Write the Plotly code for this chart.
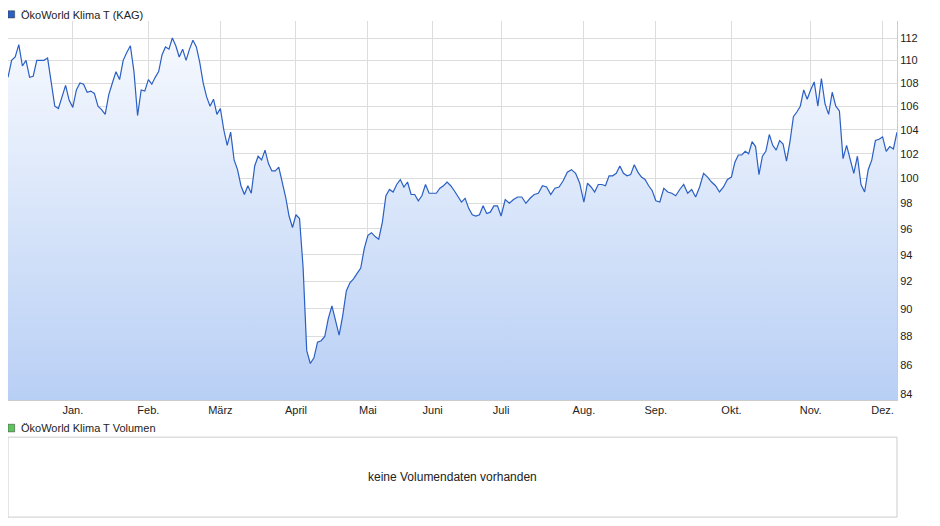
import numpy as np
import plotly.graph_objects as go

# closing prices per month, Dec 2019 .. Dec 2020
dec19 = [108.5, 110, 110.3, 111.4, 109.5, 110, 108.5, 108.6, 110, 110, 110, 110.2, 108, 106, 105.8, 106.8, 107.8, 106.5]
jan = [105.9, 107.4, 108, 107.9, 107.2, 107.3, 107.1, 106, 105.7, 105.3, 107, 108, 109, 108.3, 110, 110.7, 111.3, 109, 105.2, 107.4, 107.3]
feb = [108.3, 107.9, 108.5, 109, 110.5, 111.2, 111, 112, 111.3, 110.3, 111, 110, 111, 111.8, 111.2, 109.8, 108, 106.8, 106, 106.6, 105.3]
mar = [105.8, 104, 102.7, 103.8, 101.5, 100.7, 99.4, 98.7, 99.4, 98.8, 101, 101.8, 101.5, 102.3, 101.2, 100.6, 100.6, 100.9, 99.8, 98.5, 97, 96.1]
apr = [97.1, 96.8, 93, 87, 86.1, 86.5, 87.6, 87.7, 88, 89.3, 90.2, 89.2, 88.1, 89.5, 91.3, 91.9, 92.2, 92.6, 93, 94.5]
may = [95.5, 95.7, 95.4, 95.2, 96.5, 98.6, 99.1, 98.9, 99.5, 99.9, 99.3, 99.7, 98.7, 98.7, 98.2, 98.6, 99.5, 98.8]
jun = [98.8, 98.8, 99.2, 99.4, 99.7, 99.4, 99, 98.6, 98.1, 98.4, 97.6, 97.1, 97.0, 97.1, 97.8, 97.2, 97.3, 97.8, 97.8]
jul = [97.0, 98.3, 98.0, 98.3, 98.5, 98.5, 98.0, 98.4, 98.7, 98.8, 99.4, 99.3, 98.7, 99.2, 99.3, 99.8, 100.5, 100.7, 100.4, 99.6]
aug = [98.1, 99.6, 99.3, 98.9, 99.5, 99.5, 99.4, 100.2, 100.2, 100.4, 101, 100.4, 100.2, 100.3, 101.1, 100.5, 100.1, 99.9, 99.4, 99]
sep = [98.2, 98.1, 99.2, 98.9, 98.8, 98.6, 99.1, 99.5, 98.8, 99.1, 98.5, 99.3, 100.4, 100.1, 99.7, 99.4, 98.9, 99.3, 99.9]
okt = [100.1, 101.3, 101.9, 101.9, 102.2, 102, 103, 102.6, 100.3, 101.8, 102.2, 103.6, 102.7, 102.3, 103.1, 102.8, 101.4, 103, 105.1, 105.5, 106, 107.4, 106.6]
nov = [107.4, 108.1, 106, 108.4, 106.2, 105.3, 107.2, 106, 105.6, 101.6, 102.7, 101.5, 100.4, 101.8, 99.5, 98.9, 100.7, 101.5, 103.1, 103.2]
dec20 = [103.4, 102.2, 102.6, 102.4, 103.8]

months = [dec19, jan, feb, mar, apr, may, jun, jul, aug, sep, okt, nov, dec20]
trading_days = [18, 21, 20, 21, 20, 18, 19, 23, 20, 21, 22, 20, 4]
month_labels = ["Jan.", "Feb.", "März", "April", "Mai", "Juni", "Juli", "Aug.", "Sep.", "Okt.", "Nov.", "Dez."]
y_ticks = [84, 86, 88, 90, 92, 94, 96, 98, 100, 102, 104, 106, 108, 110, 112]

x, y = [], []
starts = np.concatenate([[0], np.cumsum(trading_days)])
for i, vals in enumerate(months):
    n = len(vals)
    step = trading_days[i] / (n - 1 if i == len(months) - 1 else n)
    x += [starts[i] + j * step for j in range(n)]
    y += vals
x_end = x[-1]

fig = go.Figure()
fig.add_trace(go.Scatter(x=[0, x_end], y=[83.5, 83.5], mode="lines",
                         line=dict(width=0), hoverinfo="skip", showlegend=False))
fig.add_trace(go.Scatter(
    x=x, y=y, mode="lines", line=dict(color="#2a5fc4", width=1.2),
    fill="tonexty",
    fillgradient=dict(type="vertical", colorscale=[[0, "#b8cff5"], [1, "#f6f9fe"]]),
    showlegend=False,
))

# page body adds an 8px offset, so the figure is a bit smaller than the window
fig.update_layout(
    width=932, height=518,
    margin=dict(l=0, r=43, t=13, b=126),
    paper_bgcolor="white", plot_bgcolor="white",
    font=dict(family="Liberation Sans, Arial", size=11, color="#222"),
    xaxis=dict(range=[0, x_end], tickvals=list(starts[1:13]), ticktext=month_labels,
               showgrid=True, gridcolor="#dcdcdc", zeroline=False, ticks="",
               showline=True, linecolor="#cccccc"),
    yaxis=dict(type="log", side="right", range=[1.9222, 2.0552],
               tickvals=y_ticks, ticktext=[str(v) for v in y_ticks],
               showgrid=True, gridcolor="#dcdcdc", zeroline=False, ticks="",
               showline=True, linecolor="#cccccc"),
    shapes=[
        dict(type="rect", xref="paper", yref="paper", x0=0, x1=0.0075, y0=1.008, y1=1.027,
             fillcolor="#2a5fc4", line=dict(color="#333", width=0.5)),
        dict(type="rect", xref="paper", yref="paper", x0=0, x1=0.0075, y0=-0.084, y1=-0.064,
             fillcolor="#5cc45c", line=dict(color="#333", width=0.5)),
        dict(type="rect", xref="paper", yref="paper", x0=0, x1=1, y0=-0.309, y1=-0.098,
             fillcolor="white", line=dict(color="#cccccc", width=1)),
    ],
    annotations=[
        dict(text="ÖkoWorld Klima T (KAG)", xref="paper", yref="paper", x=0.012, y=1.017,
             xanchor="left", yanchor="middle", showarrow=False),
        dict(text="ÖkoWorld Klima T Volumen", xref="paper", yref="paper", x=0.012, y=-0.074,
             xanchor="left", yanchor="middle", showarrow=False),
        dict(text="keine Volumendaten vorhanden", xref="paper", yref="paper", x=0.5, y=-0.203,
             xanchor="center", yanchor="middle", showarrow=False, font=dict(size=12)),
    ],
)

fig.write_html("out.html")
